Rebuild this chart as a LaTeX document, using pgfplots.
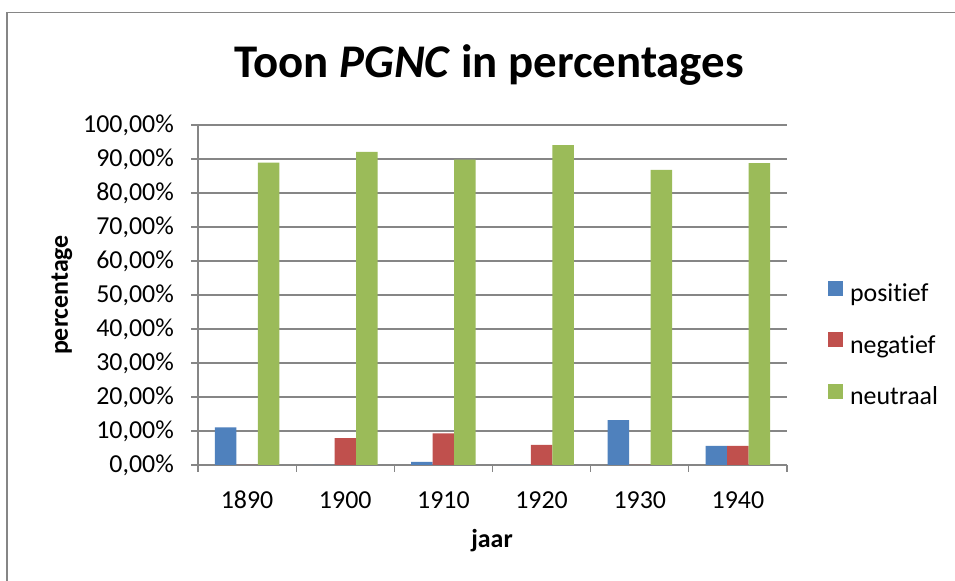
\documentclass[border=0pt]{standalone}
\usepackage{pgfplots}
\pgfplotsset{compat=1.18}
\usepackage{fontspec}
\setmainfont{Carlito}[Ligatures={NoCommon,TeX}]
\definecolor{cblue}{HTML}{4F81BD}
\definecolor{cred}{HTML}{C0504D}
\definecolor{cgreen}{HTML}{9BBB59}
\definecolor{axgray}{HTML}{868686}
\begin{document}
\begin{tikzpicture}[x=1bp,y=1bp]
\useasboundingbox (0,0) rectangle (955,581);
\fill[white] (0,0) rectangle (955,581);
\draw[axgray, line width=1.2bp] (7,-5) -- (7,568.7) -- (960,568.7);
\node[font=\fontsize{47}{56}\selectfont\bfseries] at (489,516) {Toon \textit{PGNC} in percentages};
\node[font=\fontsize{26}{31}\selectfont\bfseries, rotate=90] at (62,286) {percentage};
\node[font=\fontsize{26}{31}\selectfont\bfseries, anchor=base] at (492,33) {jaar};
\begin{axis}[
  at={(198bp,116bp)}, anchor=south west, scale only axis,
  width=589bp, height=340bp,
  xmin=-0.5, xmax=5.5, ymin=0, ymax=100,
  ybar=0pt, bar width=21.5bp,
  axis x line*=bottom, axis y line*=left,
  axis line style={axgray, line width=1.2bp},
  ymajorgrids, grid style={axgray, line width=1.2bp},
  ytick={0,10,20,30,40,50,60,70,80,90,100},
  /pgf/number format/assume math mode=true,
  yticklabel={\pgfmathprintnumber[fixed,fixed zerofill,precision=2,use comma]{\tick}\%},
  xtick={-0.5,0.5,1.5,2.5,3.5,4.5,5.5}, xticklabels={},
  extra x ticks={0,1,2,3,4,5},
  extra x tick labels={1890,1900,1910,1920,1930,1940},
  extra x tick style={major tick length=0pt, grid=none,
     xticklabel style={anchor=base, yshift=-43.5bp}},
  tick align=outside, major tick length=7bp,
  tick style={axgray, line width=1.2bp},
  ticklabel style={font=\fontsize{26}{31}\selectfont, text=black},
  yticklabel style={anchor=east, inner sep=0pt, xshift=-17bp},
  legend style={at={(1,0.35)}, anchor=west, xshift=41bp, draw=none, fill=none,
     inner sep=0pt, outer sep=0pt, row sep=24.5bp,
     font=\fontsize{26}{31}\selectfont,
     nodes={inner sep=0pt, text height=18bp, text depth=6bp},
     /tikz/every odd column/.append style={column sep=7bp}},
  legend cell align=left,
  legend image code/.code={\fill[#1] (0bp,0bp) rectangle (15bp,15bp);},
]
\addplot[fill=cblue, draw=none] coordinates {(0,11.1) (1,0) (2,0.9) (3,0) (4,13.2) (5,5.6)};
\addplot[fill=cred, draw=none] coordinates {(0,0) (1,7.9) (2,9.3) (3,5.9) (4,0) (5,5.6)};
\addplot[fill=cgreen, draw=none] coordinates {(0,88.9) (1,92.1) (2,89.8) (3,94.1) (4,86.8) (5,88.8)};
\legend{positief,negatief,neutraal}
\end{axis}
\end{tikzpicture}
\end{document}
